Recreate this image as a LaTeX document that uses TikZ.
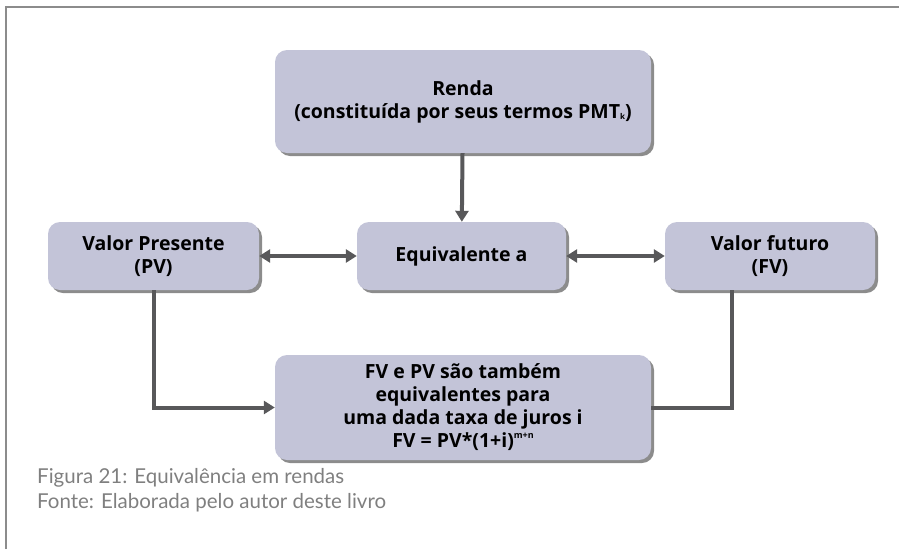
\documentclass[tikz,border=0pt]{standalone}
\usepackage{fontspec}
\setmainfont{Open Sans}
\newfontfamily\capfont{Lato}
\usetikzlibrary{arrows.meta,shadows}
\definecolor{boxfill}{HTML}{C3C4D8}
\definecolor{linegray}{HTML}{58585A}
\definecolor{framegray}{HTML}{8C8C8C}
\definecolor{capgray}{HTML}{7F7F7F}

\begin{document}
\begin{tikzpicture}[x=1pt,y=-1pt,
      box/.style={rectangle,rounded corners=12pt,fill=boxfill,align=center,
        font=\fontsize{19.5}{23}\selectfont\bfseries,inner sep=0pt,
        drop shadow={shadow xshift=3pt,shadow yshift=-3pt,fill=black!45,opacity=1}},
      link/.style={draw=linegray,line width=4pt},
      >={Triangle[length=11pt,width=13pt]}]
      \useasboundingbox (0,0) rectangle (899,549);
      \draw[framegray,line width=2pt] (6,549) -- (6,7) -- (899,7);
      \node[box,minimum width=376pt,minimum height=103pt] (renda) at (463,101.5)
        {Renda\\(constituída por seus termos PMT\raisebox{-1pt}{\fontsize{8}{8}\selectfont k})};
      \node[box,minimum width=211pt,minimum height=68pt] (pv) at (153.5,256)
        {Valor Presente\\(PV)};
      \node[box,minimum width=209pt,minimum height=68pt] (eq) at (461.5,256)
        {Equivalente a};
      \node[box,minimum width=210pt,minimum height=68pt] (fv) at (770,256)
        {Valor futuro\\(FV)};
      \node[box,minimum width=376pt,minimum height=105pt] (fvpv) at (463,407.5)
        {FV e PV são também\\equivalentes para\\uma dada taxa de juros i\\
         FV = PV*(1+i)\raisebox{9pt}{\fontsize{9}{9}\selectfont m+n}};
      \draw[link,->] (renda) -- (eq);
      \draw[link,<->] (pv) -- (eq);
      \draw[link,<->] (eq) -- (fv);
      \draw[link,->] (pv.south) |- (fvpv.west);
      \draw[link] (fv.south -| 732,0) |- (fvpv.east);
      \node[anchor=base west,align=left,text=capgray,inner sep=0pt,
        font=\capfont\fontsize{20.5}{25}\selectfont] (cap) at (37,508)
        {Figura 21: Equivalência em rendas\\Fonte: Elaborada pelo autor deste livro};
\end{tikzpicture}
\end{document}
